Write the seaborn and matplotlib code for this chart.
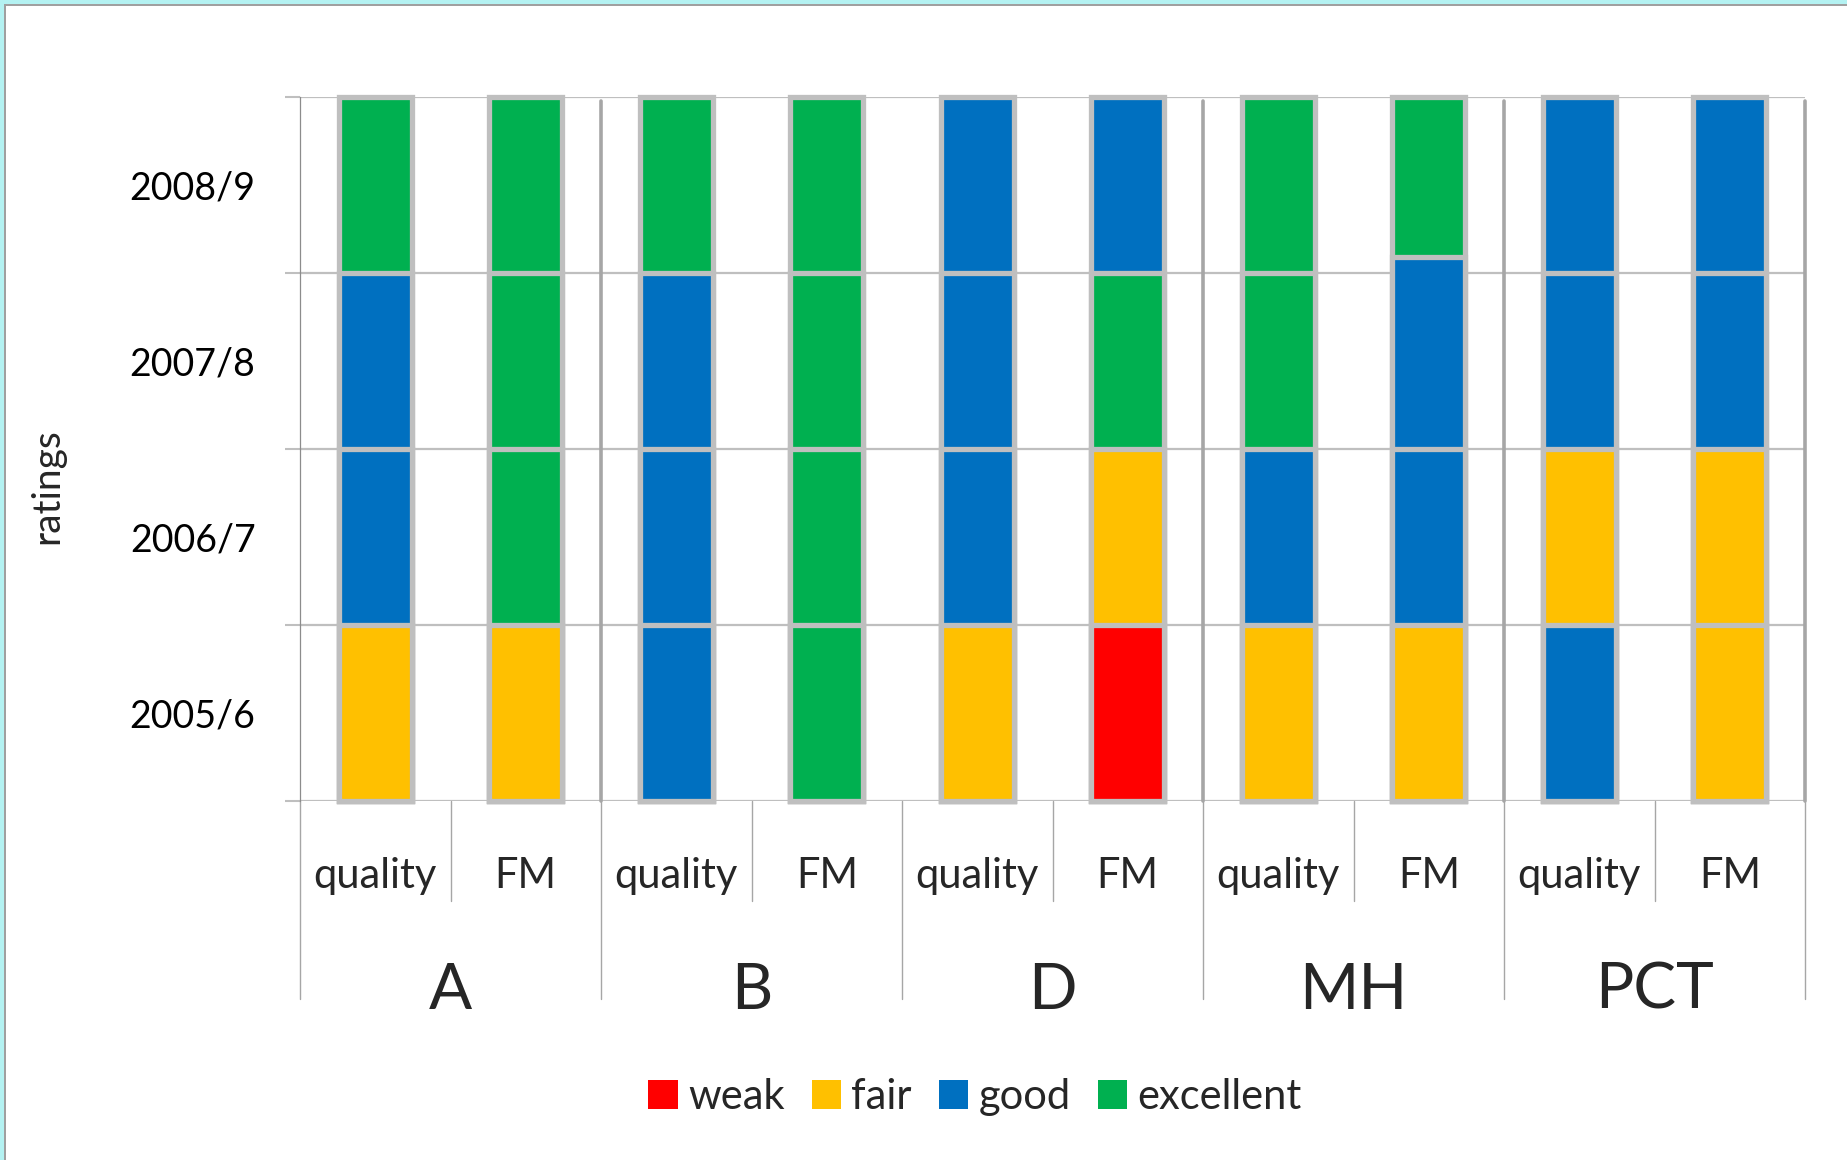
import numpy as np
import pandas as pd
import matplotlib
matplotlib.use("Agg")
import matplotlib.pyplot as plt
import matplotlib.transforms as mtransforms
from matplotlib.patches import Patch, Rectangle
import seaborn as sns

# ---------------- data ----------------
groups = ["A", "B", "D", "MH", "PCT"]
measures = ["quality", "FM"]
years = ["2005/6", "2006/7", "2007/8", "2008/9"]
rating_levels = ["weak", "fair", "good", "excellent"]
rating_colors = ["#FF0000", "#FFC000", "#0070C0", "#00B050"]

# rating of each bar (A quality, A FM, B quality, B FM, ..., PCT FM) per year
ratings_2005_6 = ["fair", "fair", "good", "excellent", "fair", "weak", "fair", "fair", "good", "fair"]
ratings_2006_7 = ["good", "excellent", "good", "excellent", "good", "fair", "good", "good", "fair", "fair"]
ratings_2007_8 = ["good", "excellent", "good", "excellent", "good", "excellent", "excellent", "good", "good", "good"]
ratings_2008_9 = ["excellent", "excellent", "excellent", "excellent", "good", "good", "excellent", "excellent", "good", "good"]

heights_2005_6 = [1, 1, 1, 1, 1, 1, 1, 1, 1, 1]
heights_2006_7 = [1, 1, 1, 1, 1, 1, 1, 1, 1, 1]
heights_2007_8 = [1, 1, 1, 1, 1, 1, 1, 1.09, 1, 1]
heights_2008_9 = [1, 1, 1, 1, 1, 1, 1, 0.91, 1, 1]

# groups followed by a heavy separator line inside the plot
separator_after = ["A", "D", "MH", "PCT"]

# ---------------- build table ----------------
bar_ids = [f"{g} {m}" for g in groups for m in measures]
year_ratings = [ratings_2005_6, ratings_2006_7, ratings_2007_8, ratings_2008_9]
year_heights = [heights_2005_6, heights_2006_7, heights_2007_8, heights_2008_9]
rows = []
for y, rr, hh in zip(years, year_ratings, year_heights):
    for b, r, h in zip(bar_ids, rr, hh):
        rows.append({"bar": b, "year": y, "rating": r, "height": h})
df = pd.DataFrame(rows)
df["top"] = df.groupby("bar")["height"].cumsum()

# ---------------- style ----------------
sns.set_style("white")
plt.rcParams["font.family"] = ["Lato", "DejaVu Sans"]
palette = dict(zip(rating_levels, rating_colors))

W, H = 1847, 1160
fig = plt.figure(figsize=(W / 100, H / 100), dpi=100)
fig.patch.set_facecolor("white")
ax = fig.add_axes([300 / W, 1 - 801 / H, (1805 - 300) / W, (801 - 97) / H])

# stacked bars: paint cumulative tops from the highest year down
for y in reversed(years):
    sub = df[df["year"] == y]
    sns.barplot(data=sub, x="bar", y="top", hue="rating", hue_order=rating_levels,
                palette=palette, order=bar_ids, dodge=False, width=0.485,
                saturation=1, edgecolor="#BFBFBF", linewidth=3.8,
                errorbar=None, legend=False, ax=ax, zorder=3)
for p in ax.patches:
    p.set_clip_on(False)
    p.set_linewidth(3.8)
    p.set_edgecolor("#BFBFBF")

ax.set_xlim(-0.5, len(bar_ids) - 0.5)
ax.set_ylim(0, len(years))
ax.set_xlabel("")
ax.set_ylabel("")

# y axis: gridlines at boundaries, year labels in between
ax.set_yticks(np.arange(len(years) + 1))
ax.set_yticks(np.arange(len(years)) + 0.5, minor=True)
ax.set_yticklabels([])
ax.set_yticklabels(years, minor=True)
ax.tick_params(axis="y", which="major", length=10.8, width=1.5, color="#BFBFBF",
               direction="out", left=True, labelleft=False)
ax.tick_params(axis="y", which="minor", length=0, pad=32, labelsize=27, labelcolor="black")
ax.yaxis.grid(True, which="major", color="#BFBFBF", lw=1.6, zorder=0)
ax.set_axisbelow(True)
ax.tick_params(axis="x", length=0, labelbottom=False)

for s in ["top", "right", "bottom"]:
    ax.spines[s].set_visible(False)
ax.spines["left"].set_color("#8C8C8C")
ax.spines["left"].set_linewidth(0.9)

# heavy separators inside the plot
for g in separator_after:
    xb = 2 * groups.index(g) + 1.5
    ax.axvline(xb, ymin=0, ymax=0.995, color="#A6A6A6", lw=2.6, zorder=2, clip_on=False)

# two-level category axis
trans = mtransforms.blended_transform_factory(ax.transData, ax.transAxes)
for i, b in enumerate(bar_ids):
    m = b.split(" ")[1]
    ax.text(i, -0.124, m, ha="center", va="baseline", fontsize=30, transform=trans)
for gi, g in enumerate(groups):
    ax.text(2 * gi + 0.5, -0.295, g, ha="center", va="baseline", fontsize=46, transform=trans)
    ax.plot([2 * gi + 0.5] * 2, [0, -0.142], color="#A6A6A6", lw=1.0,
            transform=trans, clip_on=False)
for gi in range(len(groups) + 1):
    ax.plot([2 * gi - 0.5] * 2, [0, -0.281], color="#A6A6A6", lw=1.0,
            transform=trans, clip_on=False)

# axis title
fig.text(47 / W, 1 - 486 / H, "ratings", rotation=90, ha="center", va="center", fontsize=28)

# legend
handles = [Patch(facecolor=c, edgecolor="none") for c in rating_colors]
fig.legend(handles, rating_levels, loc="center", bbox_to_anchor=(975 / W, 1 - 1097 / H),
           ncol=4, frameon=False, fontsize=30, handlelength=0.7, handleheight=0.7,
           handletextpad=0.25, columnspacing=0.65)

# outer frame
fig.patches.append(Rectangle((0, 1 - 4 / H), 1, 4 / H, transform=fig.transFigure,
                             facecolor="#B4F2F2", edgecolor="none"))
fig.patches.append(Rectangle((0, 0), 4 / W, 1, transform=fig.transFigure,
                             facecolor="#B4F2F2", edgecolor="none"))
fig.patches.append(Rectangle((4 / W, 1 - 6 / H), 1, 2 / H, transform=fig.transFigure,
                             facecolor="#A0A0A0", edgecolor="none"))
fig.patches.append(Rectangle((4 / W, 0), 2 / W, 1 - 4 / H, transform=fig.transFigure,
                             facecolor="#A0A0A0", edgecolor="none"))

fig.savefig("out.png", dpi=100)
